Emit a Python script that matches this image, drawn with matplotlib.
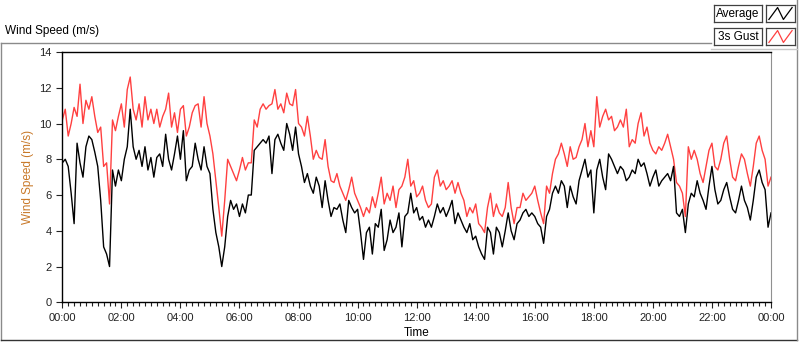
import numpy as np
import pandas as pd
import matplotlib
matplotlib.use("Agg")
import matplotlib.pyplot as plt
import matplotlib.dates as mdates
from matplotlib.lines import Line2D

plt.rcParams['font.family'] = ['Liberation Sans', 'DejaVu Sans']

# readings every 6 minutes over one day (m/s)
average = [
    7.8, 8.0, 7.6, 6.1, 4.4, 8.9, 7.8, 7.0, 8.7, 9.3,
    9.1, 8.4, 7.6, 5.7, 3.1, 2.7, 2.0, 7.4, 6.5, 7.4,
    6.8, 8.0, 8.7, 10.8, 8.7, 8.0, 8.5, 7.6, 8.7, 7.4,
    8.1, 7.0, 8.1, 8.3, 7.6, 9.4, 8.0, 7.4, 8.3, 9.3,
    8.0, 9.6, 6.8, 7.4, 7.6, 8.9, 8.0, 7.4, 8.7, 7.6,
    7.2, 5.2, 3.9, 3.1, 2.0, 3.1, 4.8, 5.7, 5.2, 5.5,
    4.8, 5.5, 5.0, 6.0, 6.0, 8.5, 8.7, 8.9, 9.1, 8.9,
    9.3, 7.2, 9.1, 9.4, 8.9, 8.5, 10.0, 9.4, 8.5, 9.8,
    8.3, 7.6, 6.7, 7.2, 6.5, 6.1, 7.0, 6.5, 5.3, 6.8,
    5.7, 4.8, 5.3, 5.2, 5.5, 4.6, 3.9, 5.7, 5.3, 5.0,
    5.2, 3.9, 2.4, 3.9, 4.2, 2.7, 4.4, 4.2, 5.2, 2.9,
    3.5, 4.6, 3.9, 4.2, 5.0, 3.1, 4.8, 5.0, 6.1, 5.0,
    5.3, 4.6, 4.8, 4.2, 4.6, 4.2, 4.8, 5.5, 5.0, 5.3,
    4.8, 5.2, 5.7, 4.4, 5.0, 4.6, 4.2, 3.9, 4.4, 3.5,
    3.7, 3.1, 2.7, 2.4, 4.2, 3.9, 2.7, 4.2, 3.9, 3.1,
    4.0, 5.0, 4.0, 3.5, 4.4, 4.6, 5.0, 5.2, 4.8, 5.0,
    4.8, 4.4, 4.2, 3.3, 4.8, 5.2, 6.1, 6.5, 6.1, 6.8,
    6.5, 5.3, 6.5, 5.9, 5.5, 6.8, 7.4, 8.0, 7.0, 7.4,
    5.0, 7.4, 8.0, 7.0, 6.3, 8.3, 8.0, 7.6, 7.2, 7.6,
    7.4, 6.8, 7.0, 7.4, 7.2, 8.0, 7.6, 7.8, 7.2, 6.5,
    7.0, 7.4, 6.5, 6.8, 7.0, 7.2, 6.8, 7.6, 5.0, 4.8,
    5.2, 3.9, 5.5, 6.1, 5.9, 6.8, 6.1, 5.7, 5.2, 6.5,
    7.6, 6.3, 5.5, 5.7, 6.3, 6.7, 5.9, 5.2, 5.0, 5.7,
    6.5, 5.7, 5.3, 4.6, 5.7, 7.0, 7.4, 6.7, 6.3, 4.2,
    5.0,
]

gust = [
    10.2, 10.8, 9.3, 10.0, 10.9, 10.4, 12.2, 10.0, 11.3, 10.8,
    11.5, 10.4, 9.5, 9.8, 7.6, 7.8, 5.5, 10.2, 9.6, 10.4,
    11.1, 9.8, 11.9, 12.6, 10.8, 10.2, 11.1, 9.8, 11.5, 10.2,
    10.8, 10.0, 10.8, 9.8, 10.4, 10.8, 11.7, 9.8, 10.6, 9.5,
    10.8, 11.0, 9.3, 9.8, 10.6, 11.0, 11.1, 9.8, 11.5, 10.0,
    9.3, 8.3, 6.8, 5.3, 3.7, 5.7, 8.0, 7.6, 7.2, 6.8,
    7.4, 8.1, 7.4, 7.8, 7.8, 10.2, 9.8, 10.8, 11.1, 10.8,
    11.0, 11.1, 11.9, 10.8, 11.1, 10.6, 11.7, 11.1, 11.0, 11.9,
    10.0, 9.8, 9.3, 10.4, 9.3, 8.0, 8.5, 8.1, 8.0, 9.1,
    7.6, 6.8, 6.7, 7.2, 6.5, 6.1, 5.7, 6.3, 7.0, 6.1,
    5.7, 5.3, 4.8, 5.3, 5.0, 5.9, 5.3, 6.1, 7.0, 5.5,
    6.1, 5.7, 6.5, 5.3, 6.3, 6.5, 7.0, 8.0, 6.5, 6.8,
    5.9, 6.1, 6.5, 5.7, 5.3, 5.5, 7.0, 7.4, 6.5, 6.8,
    6.3, 6.5, 6.8, 6.1, 6.7, 6.1, 5.7, 4.8, 5.3, 5.0,
    5.5, 4.4, 4.2, 3.9, 5.3, 6.1, 4.8, 5.5, 5.0, 4.8,
    5.3, 6.7, 5.3, 4.4, 5.3, 5.3, 6.1, 5.7, 5.9, 6.1,
    6.5, 5.7, 5.0, 4.4, 6.5, 6.1, 7.2, 8.0, 8.3, 8.9,
    8.3, 7.6, 8.7, 8.0, 8.1, 8.7, 9.1, 10.0, 8.7, 9.6,
    8.7, 11.5, 9.8, 10.4, 10.8, 10.2, 10.4, 9.6, 9.8, 10.2,
    9.8, 10.8, 8.7, 9.1, 8.9, 10.0, 10.6, 9.3, 9.8, 8.9,
    8.5, 8.3, 8.7, 8.5, 8.9, 9.4, 8.7, 8.0, 6.7, 6.5,
    6.1, 4.8, 8.7, 8.0, 8.5, 8.0, 7.2, 6.7, 7.6, 8.5,
    8.9, 7.6, 7.4, 8.0, 8.9, 9.3, 8.0, 7.0, 6.8, 7.6,
    8.3, 8.0, 7.2, 6.5, 7.6, 8.9, 9.3, 8.5, 8.0, 6.5,
    7.0,
]

times = pd.date_range('2024-01-01 00:00', periods=len(average), freq='6min')

W, H = 800, 342
fig = plt.figure(figsize=(W / 100, H / 100), dpi=100)

def fx(x):
    return x / W

def fy(y):
    return 1 - y / H

ax = fig.add_axes([fx(62.3), fy(302.3), fx(771 - 62.3), (302.3 - 52) / H])
ax.plot(times, gust, color='#ff4040', lw=1.0)
ax.plot(times, average, color='black', lw=1.0)

ax.set_ylim(0, 14)
ax.set_xlim(times[0], times[-1])
ax.set_yticks(range(0, 15, 2))
ax.xaxis.set_major_locator(mdates.HourLocator(interval=2))
ax.xaxis.set_major_formatter(mdates.DateFormatter('%H:%M'))
ax.xaxis.set_minor_locator(mdates.MinuteLocator(byminute=[0, 12, 24, 36, 48]))
ax.tick_params(axis='both', which='major', labelsize=8, colors='#222222', length=4, width=0.8)
ax.tick_params(axis='x', which='minor', length=3, width=0.8, colors='#222222')
ax.spines['right'].set_color('#909090')
for s in ['left', 'top', 'bottom']:
    ax.spines[s].set_color('black')
    ax.spines[s].set_linewidth(1.0)

ax.set_xlabel('Time', fontsize=8.5, labelpad=3)
ax.set_ylabel('Wind Speed (m/s)', fontsize=8.5, color='#c87828', labelpad=4)

# panel frame and title
frame = dict(color='#8a8a8a', lw=1.0, transform=fig.transFigure)
fig.add_artist(Line2D([fx(0.5), fx(711)], [fy(42.5), fy(42.5)], **frame))
fig.add_artist(Line2D([fx(0.5), fx(0.5)], [fy(42.5), fy(340)], **frame))
fig.add_artist(Line2D([fx(0.5), fx(797)], [fy(340), fy(340)], color='#333333', lw=1.0,
                      transform=fig.transFigure))
fig.add_artist(Line2D([fx(797), fx(797)], [fy(0), fy(340)], **frame))
fig.add_artist(Line2D([fx(711), fx(797)], [fy(49), fy(49)], color='#c8c8c8', lw=1.0,
                      transform=fig.transFigure))
fig.text(fx(5), fy(31), 'Wind Speed (m/s)', fontsize=8.5, va='center', ha='left')

# legend boxes
names = ['Average', '3s Gust']
colors = ['black', '#ff4040']
tops = [5, 28]
for name, col, top in zip(names, colors, tops):
    tb = fig.add_axes([fx(714), fy(top + 17), fx(48), 17 / H])
    tb.set_xticks([])
    tb.set_yticks([])
    tb.text(0.5, 0.5, name, ha='center', va='center', fontsize=8.5, transform=tb.transAxes)
    ib = fig.add_axes([fx(766), fy(top + 17), fx(29), 17 / H])
    ib.plot([0.1, 0.4, 0.6, 0.9], [0.15, 0.85, 0.15, 0.85], color=col, lw=0.9)
    ib.set_xlim(0, 1)
    ib.set_ylim(0, 1)
    ib.set_xticks([])
    ib.set_yticks([])
    for a in (tb, ib):
        for s in a.spines.values():
            s.set_color('#404040')
            s.set_linewidth(0.9)

fig.savefig('out.png', dpi=100)
